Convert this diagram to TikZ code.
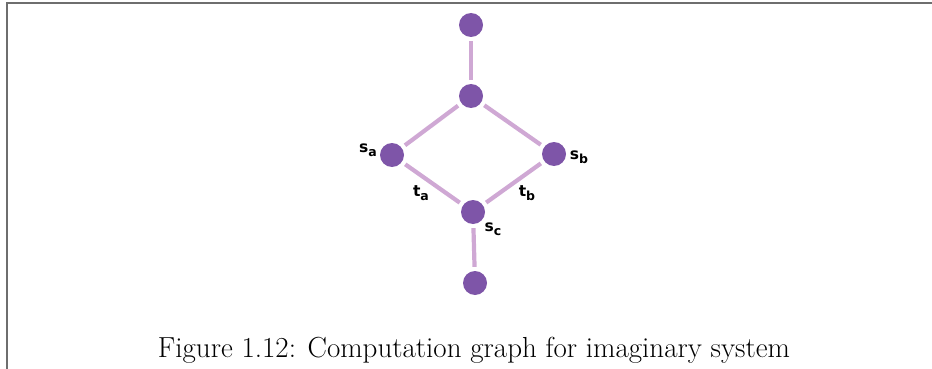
\documentclass[tikz,border=0pt]{standalone}
\usepackage{fontspec}
\newfontfamily\lblfont{DejaVu Sans}
\definecolor{nodepurple}{HTML}{7E55A8}
\definecolor{edgepurple}{HTML}{CFA8D4}
\definecolor{framegray}{HTML}{6E6E6E}
\newcommand{\lblsub}[2]{{\lblfont\bfseries\fontsize{15.5}{15.5}\selectfont #1\raisebox{-3.5pt}{\fontsize{12.5}{12.5}\selectfont #2}}}
\begin{document}
\begin{tikzpicture}[x=1pt,y=-1pt,
  vtx/.style={circle,fill=nodepurple,minimum size=24pt,inner sep=0pt},
  edge/.style={draw=edgepurple,line width=4.2pt,shorten <=4pt,shorten >=4pt},
  lbl/.style={inner sep=0pt}]
\useasboundingbox (0,0) rectangle (932,369);
\draw[framegray,line width=2pt] (7,369) -- (7,3) -- (932,3);
\node[vtx] (top) at (471,25) {};
\node[vtx] (mid) at (471,96) {};
\node[vtx] (sa) at (392,155) {};
\node[vtx] (sb) at (554,154) {};
\node[vtx] (sc) at (473,212) {};
\node[vtx] (bot) at (475,283) {};
\draw[edge] (top) -- (mid);
\draw[edge] (mid) -- (sa);
\draw[edge] (mid) -- (sb);
\draw[edge] (sa) -- (sc);
\draw[edge] (sb) -- (sc);
\draw[edge] (sc) -- (bot);
\node[lbl] (lsa) at (368,150) {\lblsub{s}{a}};
\node[lbl] (lsb) at (579,157) {\lblsub{s}{b}};
\node[lbl] (lta) at (421,193) {\lblsub{t}{a}};
\node[lbl] (ltb) at (527,193) {\lblsub{t}{b}};
\node[lbl] (lsc) at (493,229) {\lblsub{s}{c}};
\node[inner sep=0pt] (cap) at (474,350) {\fontsize{29}{33}\selectfont Figure 1.12: Computation graph for imaginary system};
\end{tikzpicture}
\end{document}
